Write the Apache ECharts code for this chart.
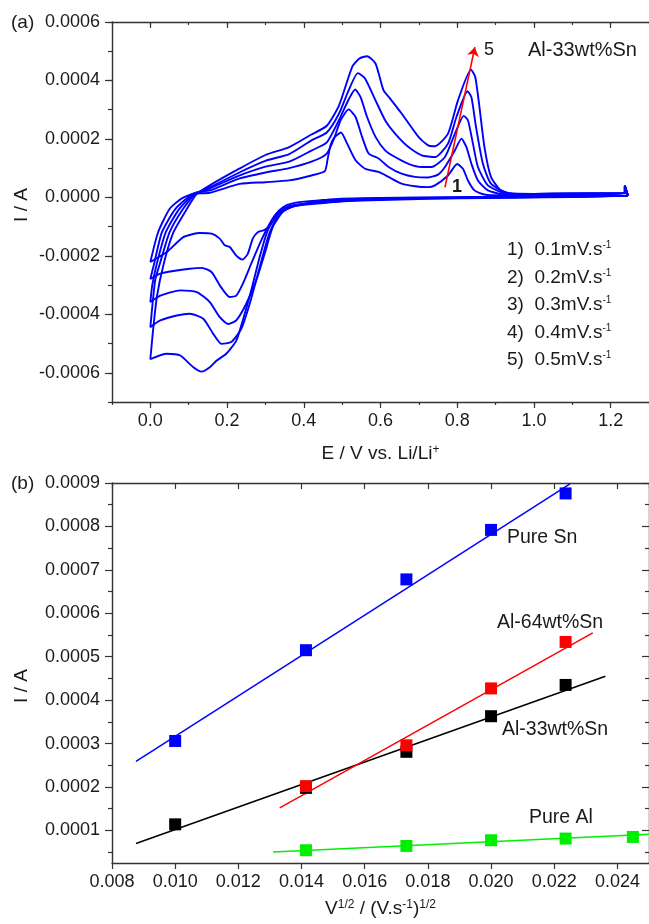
<!DOCTYPE html>
<html>
<head>
<meta charset="utf-8">
<script src="https://cdn.jsdelivr.net/npm/echarts@6/dist/echarts.min.js"></script>
<style>
html,body{margin:0;padding:0;background:#fff;}
#chart{width:649px;height:924px;}
</style>
</head>
<body>
<div id="chart"></div>
<script>
// ---------- Panel (a): cyclic voltammograms, [E (V), I (A)] ----------
const cv1 = [[1.245,0.000006],[1.1,0.000005],[0.95,0.000003],[0.8,0.000001],[0.65,-0.000001],[0.55,-0.000003],[0.49,-0.000005],[0.45,-0.000009],[0.414,-0.000013],[0.388,-0.000016],[0.354,-0.000027],[0.332,-0.00005],[0.315,-0.00009],[0.298,-0.000111],[0.28,-0.000119],[0.267,-0.000141],[0.254,-0.000193],[0.24,-0.000213],[0.224,-0.000199],[0.207,-0.00017],[0.194,-0.000164],[0.181,-0.000141],[0.16,-0.000124],[0.129,-0.000122],[0.086,-0.000136],[0.043,-0.000187],[0,-0.000221],
  [0.02,-0.00012],[0.05,-0.00004],[0.08,-0.000005],[0.11,0.000012],[0.155,0.000016],[0.233,0.000046],[0.3,0.000052],[0.362,0.000058],[0.42,0.000075],[0.455,0.00009],[0.462,0.00013],[0.47,0.00018],[0.48,0.000205],[0.497,0.000222],[0.513,0.000184],[0.535,0.000127],[0.56,0.000098],[0.595,0.000087],[0.621,0.00007],[0.655,0.000047],[0.69,0.000038],[0.724,0.000035],[0.742,0.000041],[0.776,0.000075],[0.8,0.000114],[0.815,0.000098],[0.828,0.000058],[0.845,0.000024],[0.871,0.00001],[0.913,0.000007],[1.0,0.000009],[1.1,0.000011],[1.237,0.000013],[1.237,0.00004],[1.245,0.000006]];
const cv2 = [[1.245,0.000006],[1.1,0.000004],[0.95,0.000002],[0.8,0.0],[0.65,-0.000002],[0.55,-0.000005],[0.49,-0.000008],[0.44,-0.000013],[0.397,-0.000022],[0.354,-0.000033],[0.328,-0.000056],[0.306,-0.000102],[0.285,-0.000159],[0.263,-0.000227],[0.241,-0.000296],[0.224,-0.000336],[0.207,-0.000341],[0.181,-0.000301],[0.16,-0.000256],[0.134,-0.000241],[0.103,-0.000244],[0.06,-0.000252],[0.026,-0.000261],[0,-0.000279],
  [0.01,-0.000226],[0.03,-0.00012],[0.065,-0.00004],[0.112,0.000013],[0.155,0.000024],[0.233,0.000065],[0.3,0.000085],[0.362,0.0001],[0.42,0.000122],[0.46,0.00015],[0.48,0.000205],[0.496,0.000264],[0.517,0.000301],[0.535,0.000275],[0.552,0.000207],[0.569,0.00015],[0.595,0.000133],[0.621,0.000104],[0.655,0.000081],[0.69,0.00007],[0.724,0.000068],[0.75,0.000078],[0.768,0.000104],[0.794,0.000161],[0.811,0.000201],[0.824,0.000172],[0.837,0.000115],[0.854,0.000058],[0.88,0.000024],[0.923,0.00001],[1.0,0.00001],[1.1,0.000012],[1.237,0.000013],[1.237,0.00004],[1.245,0.000006]];
const cv3 = [[1.245,0.000006],[1.1,0.000003],[0.95,0.000001],[0.8,-0.000001],[0.65,-0.000004],[0.55,-0.000007],[0.49,-0.00001],[0.43,-0.000017],[0.38,-0.000027],[0.345,-0.00005],[0.319,-0.000102],[0.298,-0.000193],[0.276,-0.000284],[0.25,-0.000364],[0.224,-0.000421],[0.203,-0.000433],[0.181,-0.00041],[0.155,-0.000358],[0.121,-0.000324],[0.078,-0.000318],[0.026,-0.000336],[0,-0.000358],
  [0.005,-0.0003],[0.017,-0.000226],[0.04,-0.00012],[0.075,-0.00004],[0.115,0.000012],[0.155,0.000031],[0.233,0.000075],[0.3,0.000105],[0.362,0.000122],[0.42,0.00016],[0.46,0.000188],[0.492,0.000265],[0.517,0.000335],[0.534,0.000369],[0.548,0.000343],[0.565,0.000275],[0.587,0.000207],[0.612,0.000161],[0.638,0.000138],[0.673,0.000115],[0.707,0.000104],[0.733,0.000104],[0.768,0.000138],[0.794,0.000218],[0.817,0.000279],[0.828,0.000264],[0.841,0.000184],[0.854,0.000104],[0.88,0.000041],[0.923,0.000015],[1.0,0.000011],[1.1,0.000012],[1.237,0.000013],[1.237,0.00004],[1.245,0.000006]];
const cv4 = [[1.245,0.000006],[1.1,0.000002],[0.95,0.0],[0.8,-0.000002],[0.65,-0.000005],[0.55,-0.000009],[0.49,-0.000013],[0.42,-0.00002],[0.371,-0.000031],[0.336,-0.000056],[0.31,-0.000124],[0.285,-0.000239],[0.259,-0.000364],[0.237,-0.00045],[0.211,-0.000495],[0.185,-0.000501],[0.164,-0.000467],[0.138,-0.000415],[0.103,-0.000398],[0.069,-0.000404],[0.026,-0.000421],[0,-0.000444],
  [0.006,-0.00036],[0.013,-0.00028],[0.025,-0.000226],[0.05,-0.00012],[0.085,-0.00004],[0.118,0.000012],[0.155,0.000034],[0.233,0.000086],[0.3,0.000125],[0.362,0.000148],[0.42,0.000195],[0.46,0.000222],[0.492,0.000287],[0.515,0.00036],[0.541,0.000425],[0.56,0.000406],[0.587,0.000332],[0.612,0.000264],[0.638,0.000218],[0.673,0.000172],[0.707,0.000144],[0.742,0.000138],[0.776,0.000184],[0.798,0.000275],[0.827,0.000363],[0.837,0.000343],[0.849,0.000241],[0.867,0.000115],[0.888,0.000047],[0.931,0.000015],[1.0,0.000012],[1.1,0.000013],[1.237,0.000014],[1.237,0.00004],[1.245,0.000006]];
const cv5 = [[1.245,0.000006],[1.1,0.000001],[0.95,-0.000001],[0.8,-0.000003],[0.65,-0.000007],[0.55,-0.000011],[0.49,-0.000015],[0.42,-0.000023],[0.367,-0.000033],[0.332,-0.000056],[0.306,-0.000113],[0.285,-0.000204],[0.263,-0.000318],[0.241,-0.000421],[0.224,-0.00049],[0.198,-0.000535],[0.173,-0.000558],[0.155,-0.000581],[0.134,-0.000596],[0.112,-0.000581],[0.078,-0.000541],[0.043,-0.000535],[0,-0.000553],
  [0.007,-0.000455],[0.017,-0.00034],[0.035,-0.000226],[0.06,-0.00012],[0.095,-0.00004],[0.12,0.00001],[0.155,0.000041],[0.233,0.000099],[0.3,0.000145],[0.362,0.000172],[0.42,0.000215],[0.46,0.000245],[0.492,0.000315],[0.526,0.000446],[0.545,0.000475],[0.565,0.000483],[0.587,0.000458],[0.608,0.000366],[0.625,0.000338],[0.655,0.000287],[0.699,0.000207],[0.724,0.000178],[0.742,0.000175],[0.776,0.000218],[0.802,0.000332],[0.836,0.000437],[0.847,0.000412],[0.858,0.000309],[0.871,0.000172],[0.888,0.00007],[0.914,0.000024],[0.957,0.00001],[1.0,0.000012],[1.1,0.000014],[1.237,0.000015],[1.237,0.00004],[1.245,0.000006]];
const cvCurves = [cv1, cv2, cv3, cv4, cv5];
const scanRates = ['0.1', '0.2', '0.3', '0.4', '0.5'];
const arrowFrom = [0.768, 0.000034];
const arrowTo = [0.846, 0.000514];

const aXTicks = [0.0, 0.2, 0.4, 0.6, 0.8, 1.0, 1.2];
const aYTicks = [-0.0006, -0.0004, -0.0002, 0.0, 0.0002, 0.0004, 0.0006];

// ---------- Panel (b): peak current vs sqrt(scan rate) ----------
const pureSnX = [0.0100, 0.01414, 0.01732, 0.0200, 0.02236];
const pureSnI = [0.000306, 0.000515, 0.000678, 0.000792, 0.000876];
const al64X = [0.01414, 0.01732, 0.0200, 0.02236];
const al64I = [0.000202, 0.000296, 0.000427, 0.000534];
const al33X = [0.0100, 0.01414, 0.01732, 0.0200, 0.02236];
const al33I = [0.000114, 0.000198, 0.000281, 0.000363, 0.000435];
const pureAlX = [0.01414, 0.01732, 0.0200, 0.02236, 0.02449];
const pureAlI = [0.0000544, 0.0000643, 0.0000774, 0.0000813, 0.000085];
const pureSnFit = [[0.00876, 0.000259], [0.0225, 0.000898]];
const al64Fit = [[0.01331, 0.000152], [0.02322, 0.000555]];
const al33Fit = [[0.00876, 0.00007], [0.02362, 0.000455]];
const pureAlFit = [[0.0131, 0.0000505], [0.025, 0.0000912]];

const bYTicks = [0.0001, 0.0002, 0.0003, 0.0004, 0.0005, 0.0006, 0.0007, 0.0008, 0.0009];
const bYMinor = [0.00005, 0.00015, 0.00025, 0.00035, 0.00045, 0.00055, 0.00065, 0.00075, 0.00085];

// ---------- chart ----------
const FONT = '"Liberation Sans", Arial, sans-serif';
const TXT = '#1a1a1a';
const AX = '#333';
const zip = (xs, ys) => xs.map((x, i) => [x, ys[i]]);

function xAx(grid, min, max, opt) {
  return Object.assign({
    gridIndex: grid, type: 'value', min: min, max: max,
    splitLine: { show: false },
    axisLine: { show: false, onZero: false, lineStyle: { color: AX, width: 1.4 } },
    axisTick: { show: true, lineStyle: { color: AX, width: 1.2 } },
    axisLabel: { show: false }
  }, opt);
}

const sup = { fontSize: 12, verticalAlign: 'top', fontFamily: FONT, color: TXT };
const nrm = { fontSize: 19, verticalAlign: 'bottom', fontFamily: FONT, color: TXT };

const xAxes = [
  // grid 0
  xAx(0, -0.1, 1.3, { position: 'bottom', axisLine: { show: true, onZero: false, lineStyle: { color: AX, width: 1.4 } },
    axisTick: { show: true, length: 6, customValues: aXTicks, lineStyle: { color: AX, width: 1.2 } },
    axisLabel: { show: true, customValues: aXTicks, formatter: v => v.toFixed(1), fontSize: 18, fontFamily: FONT, color: TXT, margin: 10 },
    name: '{n|E / V vs. Li/Li}{s|+}', nameLocation: 'middle', nameGap: 42,
    nameTextStyle: { fontFamily: FONT, color: TXT, fontSize: 19, rich: { n: nrm, s: sup } } }),
  xAx(0, -0.1, 1.3, { position: 'bottom', interval: 0.1, axisTick: { show: true, length: 3, lineStyle: { color: AX, width: 1.2 } } }),
  xAx(0, -0.1, 1.3, { position: 'top', axisLine: { show: true, onZero: false, lineStyle: { color: AX, width: 1.4 } },
    axisTick: { show: true, inside: true, length: 6, customValues: aXTicks, lineStyle: { color: AX, width: 1.2 } } }),
  xAx(0, -0.1, 1.3, { position: 'top', interval: 0.1, axisTick: { show: true, inside: true, length: 3, lineStyle: { color: AX, width: 1.2 } } }),
  // grid 1
  xAx(1, 0.008, 0.025, { position: 'bottom', interval: 0.002, axisLine: { show: true, onZero: false, lineStyle: { color: AX, width: 1.4 } },
    axisTick: { show: true, length: 6, lineStyle: { color: AX, width: 1.2 } },
    axisLabel: { show: true, formatter: v => v.toFixed(3), fontSize: 18, fontFamily: FONT, color: TXT, margin: 10, showMaxLabel: false },
    name: '{n|V}{s|1/2}{n| / (V.s}{s|-1}{n|)}{s|1/2}', nameLocation: 'middle', nameGap: 36,
    nameTextStyle: { fontFamily: FONT, color: TXT, fontSize: 19, rich: { n: nrm, s: sup } } }),
  xAx(1, 0.008, 0.025, { position: 'top', interval: 0.002, axisLine: { show: true, onZero: false, lineStyle: { color: AX, width: 1.4 } },
    axisTick: { show: true, inside: true, length: 6, lineStyle: { color: AX, width: 1.2 } } })
];

const yAxes = [
  // grid 0
  xAx(0, -0.0007, 0.0006, { position: 'left', axisLine: { show: true, onZero: false, lineStyle: { color: AX, width: 1.4 } },
    axisTick: { show: true, length: 7, customValues: aYTicks, lineStyle: { color: AX, width: 1.2 } },
    axisLabel: { show: true, customValues: aYTicks, formatter: v => v.toFixed(4), fontSize: 18, fontFamily: FONT, color: TXT, margin: 12 } }),
  xAx(0, -0.0007, 0.0006, { position: 'left', interval: 0.0001, axisTick: { show: true, length: 4, lineStyle: { color: AX, width: 1.2 } } }),
  // grid 1
  xAx(1, 0.000025, 0.0009, { position: 'left', axisLine: { show: true, onZero: false, lineStyle: { color: AX, width: 1.4 } },
    axisTick: { show: true, length: 7, customValues: bYTicks, lineStyle: { color: AX, width: 1.2 } },
    axisLabel: { show: true, customValues: bYTicks, formatter: v => v.toFixed(4), fontSize: 18, fontFamily: FONT, color: TXT, margin: 12 } }),
  xAx(1, 0.000025, 0.0009, { position: 'left', axisTick: { show: true, length: 4, customValues: bYMinor, lineStyle: { color: AX, width: 1.2 } } }),
  xAx(1, 0.000025, 0.0009, { position: 'right', axisLine: { show: true, onZero: false, lineStyle: { color: AX, width: 1.4 } },
    axisTick: { show: true, inside: true, length: 7, customValues: bYTicks, lineStyle: { color: AX, width: 1.2 } } }),
  xAx(1, 0.000025, 0.0009, { position: 'right', axisTick: { show: true, inside: true, length: 4, customValues: bYMinor, lineStyle: { color: AX, width: 1.2 } } })
];

const series = [];
cvCurves.forEach((c, i) => {
  const s = {
    type: 'line', name: 'cv' + (i + 1), xAxisIndex: 0, yAxisIndex: 0,
    data: c, showSymbol: false, symbol: 'none', smooth: 0.2,
    lineStyle: { color: '#0000ff', width: 1.9 }, z: 2
  };
  if (i === 0) {
    s.markLine = {
      silent: true, symbol: ['none', 'arrow'], symbolSize: 9, animation: false,
      lineStyle: { color: '#ff0000', width: 1.6, type: 'solid' }, label: { show: false },
      data: [[{ coord: arrowFrom }, { coord: arrowTo }]]
    };
  }
  series.push(s);
});

function fitLine(data, color) {
  return { type: 'line', xAxisIndex: 4, yAxisIndex: 2, data: data, showSymbol: false, symbol: 'none',
    lineStyle: { color: color, width: 1.5 }, z: 2 };
}
function pts(x, y, color) {
  return { type: 'scatter', xAxisIndex: 4, yAxisIndex: 2, data: zip(x, y), symbol: 'rect', symbolSize: 12,
    itemStyle: { color: color, opacity: 1 }, z: 3 };
}
series.push(fitLine(pureSnFit, '#0000ff'), fitLine(al33Fit, '#000000'), fitLine(al64Fit, '#ff0000'), fitLine(pureAlFit, '#00ee00'));
series.push(pts(pureSnX, pureSnI, '#0000ff'), pts(al33X, al33I, '#000000'), pts(al64X, al64I, '#ff0000'), pts(pureAlX, pureAlI, '#00ee00'));

function txt(x, y, text, size, extra) {
  return Object.assign({ type: 'text', x: x, y: y, z: 10,
    style: Object.assign({ text: text, fontSize: size, fontFamily: FONT, fill: TXT, verticalAlign: 'middle', align: 'left' }, extra || {}) });
}
const graphics = [
  txt(11, 23, '(a)', 19),
  txt(11, 484, '(b)', 19),
  txt(22, 205, 'I / A', 19, { align: 'center' }),
  txt(22, 686, 'I / A', 19, { align: 'center' }),
  txt(528, 50, 'Al-33wt%Sn', 20),
  txt(484, 50, '5', 18),
  txt(452, 187, '1', 18, { fontWeight: 'bold' }),
  txt(507, 538, 'Pure Sn', 19.5),
  txt(497, 623, 'Al-64wt%Sn', 19.5),
  txt(502, 730, 'Al-33wt%Sn', 19.5),
  txt(529, 818, 'Pure Al', 19.5)
];
graphics[2].rotation = Math.PI / 2;
graphics[3].rotation = Math.PI / 2;
scanRates.forEach((r, i) => {
  graphics.push({ type: 'text', x: 507, y: 250 + i * 27.5, z: 10,
    style: { text: '{n|' + (i + 1) + ')  ' + r + 'mV.s}{s|-1}', verticalAlign: 'middle', align: 'left',
      rich: { n: { fontSize: 19, fontFamily: FONT, fill: TXT, color: TXT, verticalAlign: 'bottom' },
              s: { fontSize: 10, fontFamily: FONT, fill: TXT, color: TXT, verticalAlign: 'top' } } } });
});

const chart = echarts.init(document.getElementById('chart'), null, { renderer: 'canvas' });
chart.setOption({
  animation: false,
  backgroundColor: '#ffffff',
  grid: [
    { left: 112, top: 22, width: 541, height: 380, containLabel: false },
    { left: 112, top: 483, width: 537.5, height: 380, containLabel: false }
  ],
  xAxis: xAxes,
  yAxis: yAxes,
  series: series,
  graphic: graphics
});
</script>
</body>
</html>
